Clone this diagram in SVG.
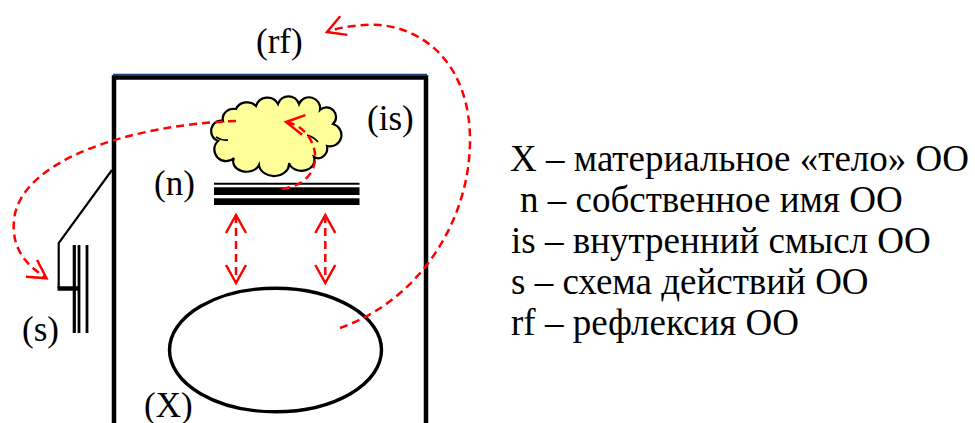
<svg xmlns="http://www.w3.org/2000/svg" width="975" height="423" viewBox="0 0 975 423" font-family="Liberation Serif, Times New Roman, serif">
<style>
text{font-size:35px;fill:#000}
.leg{font-size:37px}
.red{fill:none;stroke:#FF0000;stroke-width:2.5;stroke-dasharray:8 5}
.blk{fill:none;stroke:#000}
</style>
<defs>
<marker id="arr" markerUnits="userSpaceOnUse" orient="auto-start-reverse" refX="0" refY="0" markerWidth="40" markerHeight="40" overflow="visible">
<path d="M-18,-10 L0,0 L-18,10" fill="none" stroke="#FF0000" stroke-width="2.5"/>
</marker>
</defs>
<rect width="975" height="423" fill="#fff"/>

<g id="body-frame">
<line x1="113" y1="74.5" x2="427" y2="74.5" stroke="#1F3A7A" stroke-width="1.5"/>
<path class="blk" d="M114,423 V77.5 H426 V423" stroke-width="4.5"/>
</g>

<g id="X">
<ellipse cx="275.5" cy="350" rx="106" ry="61.8" class="blk" stroke-width="3.4"/>
<text x="144" y="417">(X)</text>
</g>

<g id="is">
<path d="M218,141 A9,10 0 0 1 223,121 A11,10 0 0 1 236,109 A12,11 0 0 1 256,106 A12,12 0 0 1 278,104 A11,11 0 0 1 299,104 A11,11 0 0 1 320,110 A9,9 0 0 1 333,124 A9,9 0 0 1 327,146 A9,10 0 0 1 314,157 A12,10 0 0 1 289,163 A15,12 0 0 1 259,165 A13,10 0 0 1 234,158 A9,9 0 0 1 218,141 Z" fill="#FFFF99" stroke="#000" stroke-width="2.2"/>
<path d="M216,137 Q222,141 228,140 M307,135 Q314,137 318,142" class="blk" stroke-width="1.8"/>
<text x="367" y="130">(is)</text>
</g>

<g id="n">
<line x1="214" y1="183.7" x2="359.5" y2="183.7" stroke="#000" stroke-width="2"/>
<rect x="214" y="187.3" width="145.5" height="7.7" fill="#000"/>
<rect x="214" y="198.3" width="145.5" height="6.7" fill="#000"/>
<text x="154" y="195">(n)</text>
</g>

<g id="s">
<path class="blk" d="M112,170 L58.7,243 V288" stroke-width="2.2"/>
<line x1="57.5" y1="288.5" x2="79" y2="288.5" stroke="#000" stroke-width="4.5"/>
<line x1="74.3" y1="245" x2="74.3" y2="333" stroke="#000" stroke-width="3.2"/>
<line x1="79" y1="245" x2="79" y2="333" stroke="#000" stroke-width="2.8"/>
<line x1="87" y1="245" x2="87" y2="333" stroke="#000" stroke-width="2.8"/>
<text x="22" y="341">(s)</text>
</g>

<g id="rf">
<text x="256" y="53">(rf)</text>
</g>

<g id="connectors">
<path class="red" d="M340,328 C420,300 470,220 470,140 C470,70 430,30 380,25 C360,24 340,27 327,32" marker-end="url(#arr)"/>
<path class="red" d="M236,121 C130,125 20,160 14,220 C11,250 28,266 46.5,278.3" marker-end="url(#arr)"/>
<path class="red" d="M282,189 C310,185 320,165 313,145 C308,132 298,124 286,122" marker-end="url(#arr)"/>
<line class="red" x1="236" y1="215" x2="236" y2="283" marker-start="url(#arr)" marker-end="url(#arr)"/>
<line class="red" x1="325.3" y1="215" x2="325.3" y2="283" marker-start="url(#arr)" marker-end="url(#arr)"/>
</g>

<g id="legend">
<text class="leg" x="510" y="171">X – материальное «тело» ОО</text>
<text class="leg" x="520" y="212">n – собственное имя ОО</text>
<text class="leg" x="511" y="253">is – внутренний смысл ОО</text>
<text class="leg" x="511" y="294">s – схема действий ОО</text>
<text class="leg" x="511" y="335">rf – рефлексия ОО</text>
</g>
</svg>
